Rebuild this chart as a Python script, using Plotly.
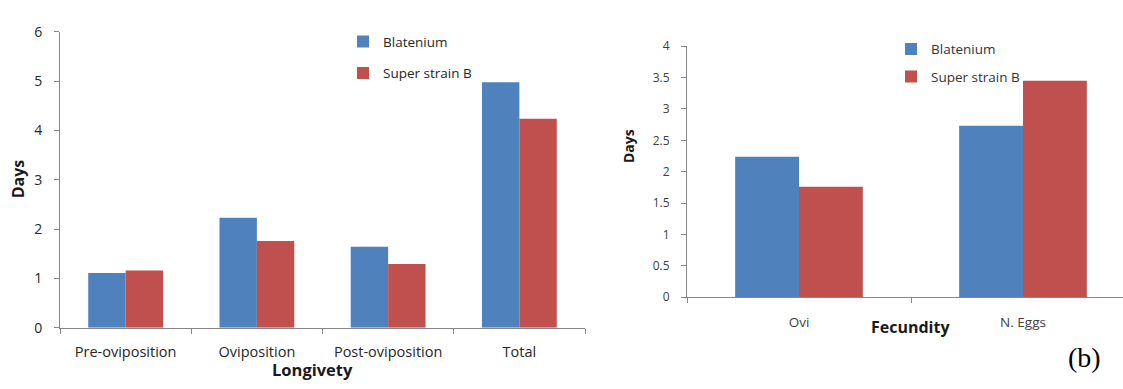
import plotly.graph_objects as go

# Longevity data (days)
longevity_stages = ["Pre-oviposition", "Oviposition", "Post-oviposition", "Total"]
longevity_blatenium = [1.11, 2.23, 1.64, 4.98]
longevity_super_b = [1.16, 1.76, 1.29, 4.24]

# Fecundity data
fecundity_items = ["Ovi", "N. Eggs"]
fecundity_blatenium = [2.24, 2.73]
fecundity_super_b = [1.76, 3.45]

series_names = ["Blatenium", "Super strain B"]

W, H = 1123, 389
BLUE = "#4F81BD"
RED = "#C0504D"
AXIS_GRAY = "#868686"
FONT = "Open Sans, Lato, sans-serif"


def px_x(x):
    return x / W


def px_y(y):
    return 1 - y / H


fig = go.Figure()

# left panel: longevity
fig.add_trace(go.Bar(x=longevity_stages, y=longevity_blatenium, name=series_names[0],
                     marker=dict(color=BLUE, line=dict(width=0)),
                     xaxis="x", yaxis="y", legend="legend", legendgroup="a1"))
fig.add_trace(go.Bar(x=longevity_stages, y=longevity_super_b, name=series_names[1],
                     marker=dict(color=RED, line=dict(width=0)),
                     xaxis="x", yaxis="y", legend="legend", legendgroup="a2"))

# right panel: fecundity
fig.add_trace(go.Bar(x=fecundity_items, y=fecundity_blatenium, name=series_names[0],
                     marker=dict(color=BLUE, line=dict(width=0)),
                     xaxis="x2", yaxis="y2", legend="legend2", legendgroup="b1"))
fig.add_trace(go.Bar(x=fecundity_items, y=fecundity_super_b, name=series_names[1],
                     marker=dict(color=RED, line=dict(width=0)),
                     xaxis="x2", yaxis="y2", legend="legend2", legendgroup="b2"))

axis_common = dict(showline=True, linecolor=AXIS_GRAY, linewidth=1, showgrid=False,
                   zeroline=False, ticks="outside", ticklen=5, tickcolor=AXIS_GRAY,
                   fixedrange=True)

fig.update_layout(
    width=W, height=H,
    margin=dict(l=0, r=0, t=0, b=0),
    paper_bgcolor="white", plot_bgcolor="white",
    barmode="group", bargap=0.43, bargroupgap=0,
    font=dict(family=FONT, color="#262626"),
    xaxis=dict(domain=[px_x(60), px_x(585)], anchor="y", tickson="boundaries",
               range=[-0.5, 3.5], tickfont=dict(size=14.5, color="#262626"),
               ticklabelstandoff=11, **axis_common),
    yaxis=dict(domain=[px_y(334), px_y(23)], anchor="x", range=[0, 6], dtick=1,
               tickfont=dict(size=14, color="#262626"), ticklabelstandoff=9,
               **axis_common),
    xaxis2=dict(domain=[px_x(687), 1.0], anchor="y2", tickson="boundaries",
                range=[-0.5, 1.5 - 12 / 224], tickfont=dict(size=13.5, color="#404040"),
                ticklabelstandoff=13, **axis_common),
    yaxis2=dict(domain=[px_y(302), px_y(38)], anchor="x2", range=[0, 4], dtick=0.5,
                tickfont=dict(size=12, color="#404040"), ticklabelstandoff=9,
                **axis_common),
    legend=dict(x=px_x(343), y=px_y(17), xanchor="left", yanchor="top",
                font=dict(size=13.5, color="#262626"), bgcolor="rgba(0,0,0,0)",
                tracegroupgap=11, itemwidth=30, traceorder="grouped"),
    legend2=dict(x=px_x(891), y=px_y(25), xanchor="left", yanchor="top",
                 font=dict(size=13.5, color="#333333"), bgcolor="rgba(0,0,0,0)",
                 tracegroupgap=7, itemwidth=30, traceorder="grouped"),
    showlegend=True,
)

annotations = [
    dict(text="<b>Days</b>", x=px_x(18), y=px_y(178), textangle=-90,
         font=dict(size=16, color="#1a1a1a")),
    dict(text="<b>Longivety</b>", x=px_x(312), y=px_y(377.5),
         font=dict(size=16.5, color="#1a1a1a")),
    dict(text="<b>Days</b>", x=px_x(628), y=px_y(143), textangle=-90,
         font=dict(size=14, color="#1a1a1a")),
    dict(text="<b>Fecundity</b>", x=px_x(910), y=px_y(333),
         font=dict(size=16, color="#1a1a1a")),
    dict(text="(b)", x=px_x(1084), y=px_y(365),
         font=dict(size=28, color="#000000", family="Liberation Serif, serif")),
]
for a in annotations:
    a.update(xref="paper", yref="paper", showarrow=False, xanchor="center", yanchor="middle")
fig.update_layout(annotations=annotations)

fig.write_html("out.html")
